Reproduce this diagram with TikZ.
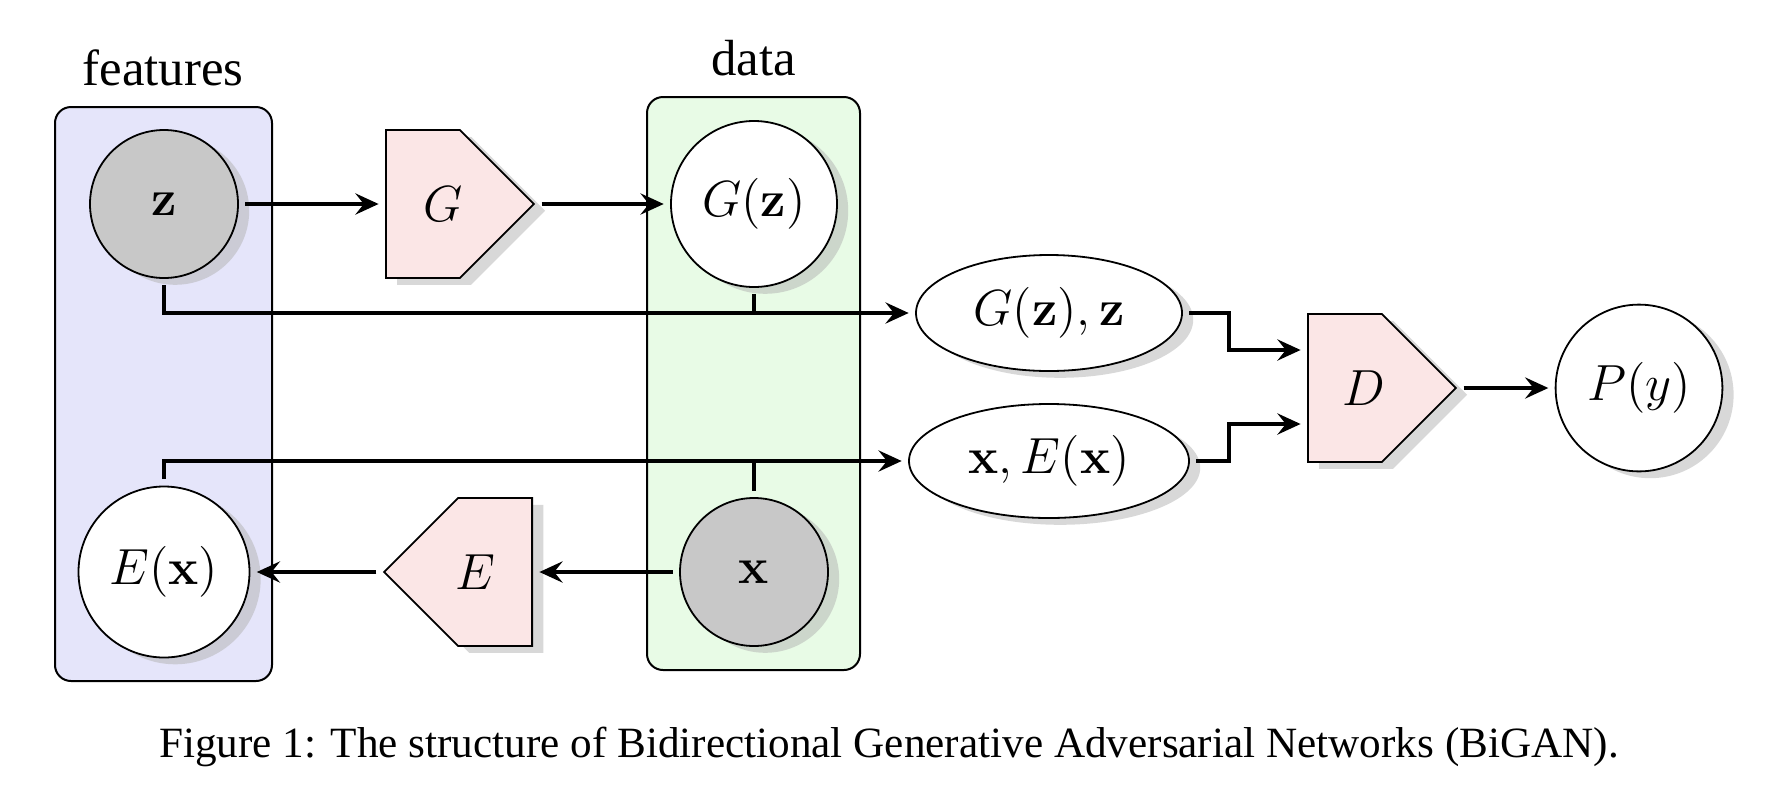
\RequirePackage{fix-cm}
\documentclass[tikz,border=0pt]{standalone}
\usepackage[no-math]{fontspec}
\newfontfamily\timesf{Liberation Serif}
\usetikzlibrary{shapes.geometric,shapes.symbols,shadows,arrows.meta,calc}
\definecolor{featfill}{RGB}{229,229,250}
\definecolor{datafill}{RGB}{232,251,230}
\definecolor{gatefill}{RGB}{251,230,230}
\definecolor{obsfill}{RGB}{200,200,200}
\newcommand\dgmfont{\fontsize{12.7}{15}\selectfont}
\newcommand\lblfont{\timesf\fontsize{12.7}{15}\selectfont}
\newcommand\capfont{\timesf\fontsize{10.8}{13}\selectfont}
\begin{document}
\begin{tikzpicture}[x=0.25pt,y=-0.25pt,
  conn/.style={line width=0.8pt, shorten <=1.6pt, shorten >=1.6pt},
  arr/.style={conn, -{Stealth[length=5.8pt,width=5.3pt,inset=2.1pt]}},
  shad/.style={drop shadow={shadow xshift=2.8pt, shadow yshift=-1.7pt, opacity=0.5, fill=black!30}},
  circ/.style={circle, draw, line width=0.45pt, inner sep=0pt, shad, font=\dgmfont},
  gate/.style={signal, signal pointer angle=90, draw, fill=gatefill, minimum width=37pt, minimum height=37pt, inner sep=0pt, shad, line width=0.45pt, font=\dgmfont},
  oval/.style={ellipse, draw, fill=white, inner sep=0pt, shad, line width=0.45pt, font=\dgmfont},
  lbl/.style={font=\lblfont, anchor=base, inner sep=0pt},
  grp/.style={draw, rounded corners=4pt, line width=0.5pt}
]
\useasboundingbox (0,0) rectangle (1778,804);
% group boxes
\draw[grp, fill=featfill] (55,107) rectangle (272,681);
\draw[grp, fill=datafill] (647,97) rectangle (860,670);
\node[lbl] (featlbl) at (163,85) {features};
\node[lbl] (datalbl) at (753.5,75) {data};
% nodes
\node[circ, fill=obsfill, minimum size=37pt] (z) at (164,204) {$\mathbf{z}$};
\node[circ, fill=white, minimum size=41.5pt] (Gz) at (754,204) {$G(\mathbf{z})$};
\node[circ, fill=white, minimum size=42.75pt] (Ex) at (164,572) {$E(\mathbf{x})$};
\node[circ, fill=obsfill, minimum size=37pt] (x) at (754,572) {$\mathbf{x}$};
\node[gate, signal to=east, anchor=west] (G) at (385,204) {\kern5pt$G$\kern-5pt};
\node[gate, signal to=west, anchor=east] (E) at (533,572) {\kern-5pt$E$\kern5pt};
\node[gate, signal to=east, anchor=west] (D) at (1307,388) {\kern4.7pt$D$\kern-4.7pt};
\node[oval, minimum width=66.5pt, minimum height=29pt] (e1) at (1049,313) {$G(\mathbf{z}),\mathbf{z}$};
\node[oval, minimum width=70pt, minimum height=28.5pt] (e2) at (1049,461) {$\mathbf{x},E(\mathbf{x})$};
\node[circ, fill=white, minimum size=41.7pt] (P) at (1639,388) {$P(y)$};
% connectors
\draw[arr] (z.east) -- (G.west);
\draw[arr] (G.east) -- (Gz.west);
\draw[arr] (z.south) |- (e1.west);
\draw[conn, shorten >=0pt] (Gz.south) -- (Gz.south |- e1.west);
\draw[arr] (Ex.north) |- (e2.west);
\draw[conn, shorten >=0pt] (x.north) -- (x.north |- e2.west);
\draw[arr] (x.west) -- (E.east);
\draw[arr] (E.west) -- (Ex.east);
\coordinate (mx) at (1229,0);
\coordinate (d1) at ($(D.west)+(0,-38)$);
\coordinate (d2) at ($(D.west)+(0,36)$);
\draw[arr] (e1.east) -- (e1.east -| mx) |- (d1);
\draw[arr] (e2.east) -- (e2.east -| mx) |- (d2);
\draw[arr] (D.east) -- (P.west);
% caption
\node[font=\capfont, anchor=base, inner sep=0pt] (cap) at (889,757) {Figure 1: The structure of Bidirectional Generative Adversarial Networks (BiGAN).};
\end{tikzpicture}
\end{document}
